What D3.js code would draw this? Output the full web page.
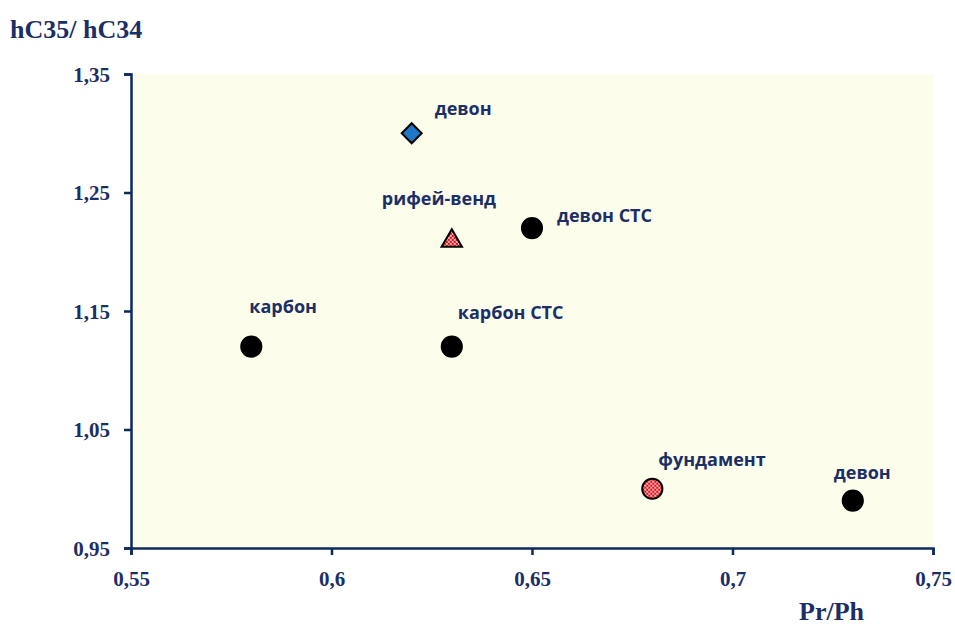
<!DOCTYPE html>
<html>
<head>
<meta charset="utf-8">
<script src="https://cdn.jsdelivr.net/npm/d3@7"></script>
<style>
  body { margin: 0; background: #fff; }
  svg { display: block; }
</style>
</head>
<body>
<div id="container"></div>
<script>
const xTicks = [0.55, 0.6, 0.65, 0.7, 0.75];
const yTicks = [0.95, 1.05, 1.15, 1.25, 1.35];
const labels = ["девон", "рифей-венд", "девон СТС", "карбон", "карбон СТС", "фундамент", "девон"];
const prph = [0.62, 0.63, 0.65, 0.58, 0.63, 0.68, 0.73];
const hc = [1.30, 1.21, 1.22, 1.12, 1.12, 1.00, 0.99];
const shapes = ["diamond", "triangle", "circle", "circle", "circle", "dotcircle", "circle"];
// label offsets from the point (text anchor start)
const labelDx = [23, -70, 25, -2, 6, 6, -19];
const labelDy = [-24, -41, -12, -40, -34, -29, -28];

const width = 955, height = 626;
const navy = "#0d2a5c";
const textNavy = "#1b2f66";

const svg = d3.select("#container").append("svg")
  .attr("width", width)
  .attr("height", height);

const defs = svg.append("defs");
const pat = defs.append("pattern")
  .attr("id", "checker")
  .attr("width", 4).attr("height", 4)
  .attr("patternUnits", "userSpaceOnUse");
pat.append("rect").attr("width", 4).attr("height", 4).attr("fill", "#d8101a");
pat.append("rect").attr("width", 2).attr("height", 2).attr("fill", "#ffb0b0");
pat.append("rect").attr("x", 2).attr("y", 2).attr("width", 2).attr("height", 2).attr("fill", "#ffb0b0");

const x = d3.scaleLinear().domain([0.55, 0.75]).range([131, 933]);
const y = d3.scaleLinear().domain([0.95, 1.35]).range([548, 74]);

// plot background
svg.append("rect")
  .attr("x", x(0.55)).attr("y", y(1.35))
  .attr("width", x(0.75) - x(0.55))
  .attr("height", y(0.95) - y(1.35))
  .attr("fill", "#fdfdec");

const fmt = d => String(+d.toFixed(2)).replace(".", ",");

const xAxis = svg.append("g")
  .attr("transform", `translate(0,${y(0.95)})`)
  .call(d3.axisBottom(x).tickValues(xTicks).tickFormat(fmt).tickSize(7).tickSizeOuter(7));
const yAxis = svg.append("g")
  .attr("transform", `translate(${x(0.55)},0)`)
  .call(d3.axisLeft(y).tickValues(yTicks).tickFormat(fmt).tickSize(7).tickSizeOuter(7));

[xAxis, yAxis].forEach(g => {
  g.attr("font-size", null).attr("font-family", null);
  g.selectAll("path, line").attr("stroke", navy).attr("stroke-width", 2.5);
  g.selectAll("text")
    .attr("fill", textNavy)
    .attr("font-family", "'Liberation Serif', 'Times New Roman', serif")
    .attr("font-weight", "bold")
    .attr("font-size", 21);
});
xAxis.selectAll("text").attr("dy", 28);
yAxis.selectAll("text").attr("dx", -11).attr("dy", 7);

// axis titles
svg.append("text")
  .attr("x", 10).attr("y", 38)
  .attr("fill", textNavy)
  .attr("font-family", "'Liberation Serif', 'Times New Roman', serif")
  .attr("font-weight", "bold")
  .attr("font-size", 26)
  .text("hC35/ hC34");
svg.append("text")
  .attr("x", 799).attr("y", 620)
  .attr("fill", textNavy)
  .attr("font-family", "'Liberation Serif', 'Times New Roman', serif")
  .attr("font-weight", "bold")
  .attr("font-size", 26)
  .text("Pr/Ph");

// points
const pts = svg.append("g").selectAll("path")
  .data(prph.map((v, i) => ({ x: v, y: hc[i], s: shapes[i] })))
  .enter().append("path")
  .attr("transform", d => `translate(${x(d.x)},${y(d.y)})`)
  .attr("d", d => {
    if (d.s === "diamond") return d3.symbol(d3.symbolSquare, 200)();
    if (d.s === "triangle") return d3.symbol(d3.symbolTriangle, 180)();
    return d3.symbol(d3.symbolCircle, 320)();
  })
  .attr("fill", d => d.s === "diamond" ? "#1f77c8" : d.s === "circle" ? "#000" : "url(#checker)")
  .attr("stroke", "#000")
  .attr("stroke-width", 2);
pts.filter(d => d.s === "diamond")
  .attr("transform", d => `translate(${x(d.x)},${y(d.y)}) rotate(45)`);
pts.filter(d => d.s === "triangle")
  .attr("transform", d => `translate(${x(d.x)},${y(d.y) + 1})`);

// labels
svg.append("g").selectAll("text")
  .data(labels)
  .enter().append("text")
  .attr("x", (d, i) => x(prph[i]) + labelDx[i])
  .attr("y", (d, i) => y(hc[i]) + labelDy[i] + 6)
  .attr("fill", textNavy)
  .attr("font-family", "'Open Sans', 'Noto Sans', sans-serif")
  .attr("font-weight", "bold")
  .attr("font-size", 18)
  .text(d => d);
</script>
</body>
</html>
